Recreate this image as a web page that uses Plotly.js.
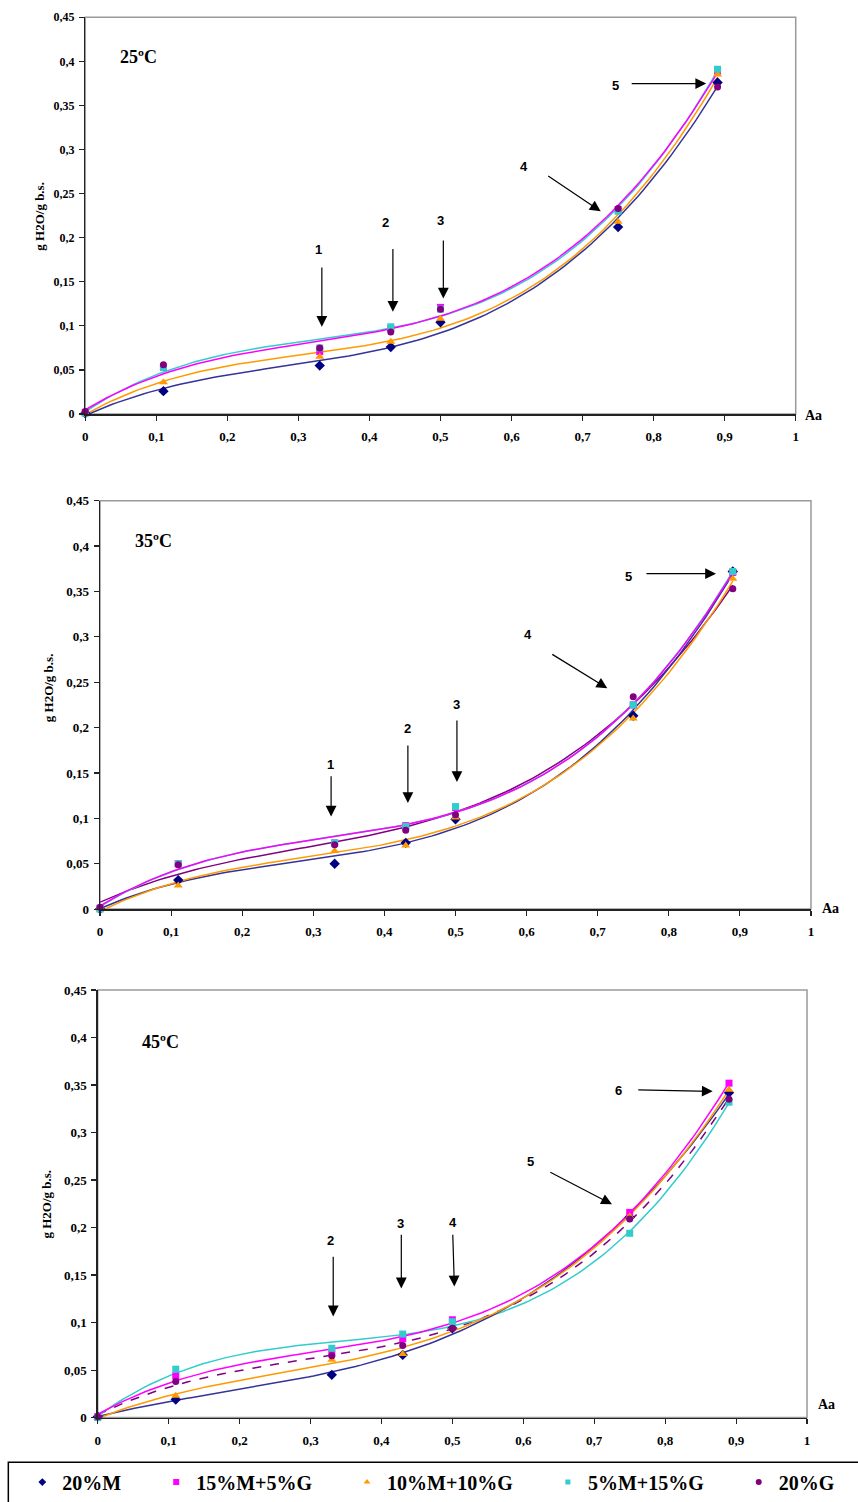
<!DOCTYPE html>
<html><head><meta charset="utf-8">
<script src="https://cdn.plot.ly/plotly-3.0.1.min.js"></script>
<style>html,body{margin:0;padding:0;background:#fff}#chart{width:858px;height:1502px}</style>
</head><body><div id="chart"></div>
<script>
// ---------- data ----------
const aw = [0, 0.11, 0.33, 0.43, 0.5, 0.75, 0.89];
const seriesNames = ['20%M', '15%M+5%G', '10%M+10%G', '5%M+15%G', '20%G'];
const panelTitles = ['25ºC', '35ºC', '45ºC'];
const xTickVals = [0, 0.1, 0.2, 0.3, 0.4, 0.5, 0.6, 0.7, 0.8, 0.9, 1];
const xTickText = ['0', '0,1', '0,2', '0,3', '0,4', '0,5', '0,6', '0,7', '0,8', '0,9', '1'];
const yTickVals = [0, 0.05, 0.1, 0.15, 0.2, 0.25, 0.3, 0.35, 0.4, 0.45];
const yTickText = ['0', '0,05', '0,1', '0,15', '0,2', '0,25', '0,3', '0,35', '0,4', '0,45'];
const yTitle = 'g H2O/g b.s.';
const xTitle = 'Aa';

// 25 ºC
const m20_25    = [0.001, 0.026, 0.055, 0.076, 0.104, 0.212, 0.376];
const m15g5_25  = [0.002, 0.053, 0.071, 0.097, 0.121, 0.232, 0.389];
const m10g10_25 = [0.001, 0.036, 0.065, 0.082, 0.108, 0.218, 0.385];
const m5g15_25  = [0.001, 0.053, 0.075, 0.099, 0.119, 0.230, 0.391];
const g20_25    = [0.003, 0.056, 0.075, 0.093, 0.119, 0.233, 0.371];
// 35 ºC
const m20_35    = [0.000, 0.032, 0.050, 0.073, 0.099, 0.213, 0.372];
const m15g5_35  = [0.001, 0.050, 0.073, 0.092, 0.112, 0.225, 0.371];
const m10g10_35 = [0.000, 0.026, 0.064, 0.070, 0.101, 0.210, 0.364];
const m5g15_35  = [0.000, 0.050, 0.073, 0.091, 0.113, 0.225, 0.372];
const g20_35    = [0.002, 0.049, 0.071, 0.087, 0.104, 0.234, 0.353];
// 45 ºC
const m20_45    = [0.001, 0.019, 0.045, 0.066, 0.094, 0.211, 0.342];
const m15g5_45  = [0.001, 0.044, 0.068, 0.083, 0.103, 0.216, 0.352];
const m10g10_45 = [0.000, 0.023, 0.061, 0.067, 0.095, 0.212, 0.345];
const m5g15_45  = [0.000, 0.051, 0.073, 0.088, 0.101, 0.194, 0.332];
const g20_45    = [0.001, 0.038, 0.065, 0.076, 0.094, 0.209, 0.335];

const panels = [
  [m20_25, m15g5_25, m10g10_25, m5g15_25, g20_25],
  [m20_35, m15g5_35, m10g10_35, m5g15_35, g20_35],
  [m20_45, m15g5_45, m10g10_45, m5g15_45, g20_45]
];

// ---------- style ----------
const markerColors = ['#000080', '#FF00FF', '#FF9900', '#33CCCC', '#800080'];
const lineColors   = ['#333399', '#FF00FF', '#FF9900', '#33CCCC', '#800080'];
const symbols = ['diamond', 'square', 'triangle-up', 'square', 'circle'];
const msizes = [8, 7, 8, 7, 7];
const legendSizes = [6, 6, 6, 5, 6];
const showFit = [[1,1,1,1,0],[1,1,1,1,1],[1,1,1,1,1]];
const fitDash = [['solid','solid','solid','solid','solid'],['solid','solid','solid','solid','solid'],['solid','solid','solid','solid','dash']];
const lineOrder = [4, 3, 0, 2, 1];
const legendPad = [6, 6, 6, 6, 0];
const SERIF = '"Liberation Serif", "Times New Roman", serif';
const SANS = '"Liberation Sans", Arial, sans-serif';
const NB = '\u00A0';

// x/y domains (paper fractions) for the three panels
const xDomains = [[0.0994, 0.9274], [0.1166, 0.9452], [0.1139, 0.9406]];
const yDomains = [[0.7232, 0.9885], [0.3923, 0.6653], [0.0524, 0.3382]];
const yTickSize = [12, 13, 13];

// polynomial (order 3) least-squares trendline
function polyFit(xs, ys, deg) {
  const n = deg + 1;
  const A = Array.from({length: n}, () => new Array(n + 1).fill(0));
  for (let k = 0; k < xs.length; k++) {
    for (let i = 0; i < n; i++) {
      for (let j = 0; j < n; j++) A[i][j] += Math.pow(xs[k], i + j);
      A[i][n] += ys[k] * Math.pow(xs[k], i);
    }
  }
  for (let i = 0; i < n; i++) {
    let p = i;
    for (let r = i + 1; r < n; r++) if (Math.abs(A[r][i]) > Math.abs(A[p][i])) p = r;
    [A[i], A[p]] = [A[p], A[i]];
    for (let r = 0; r < n; r++) {
      if (r === i) continue;
      const f = A[r][i] / A[i][i];
      for (let c = i; c <= n; c++) A[r][c] -= f * A[i][c];
    }
  }
  return A.map((row, i) => row[n] / row[i]);
}
function polyEval(c, x) { return c.reduce((s, ci, i) => s + ci * Math.pow(x, i), 0); }

const xMax = Math.max(...aw);
const grid = [];
for (let i = 0; i <= 120; i++) grid.push(xMax * i / 120);

const traces = [];
panels.forEach((series, p) => {
  const xa = p === 0 ? 'x' : 'x' + (p + 1);
  const ya = p === 0 ? 'y' : 'y' + (p + 1);
  lineOrder.forEach(s => {
    if (!showFit[p][s]) return;
    const c = polyFit(aw, series[s], 3);
    traces.push({
      x: grid, y: grid.map(x => polyEval(c, x)), xaxis: xa, yaxis: ya,
      mode: 'lines', line: {color: lineColors[s], width: 1.5, dash: fitDash[p][s]},
      showlegend: false, hoverinfo: 'skip'
    });
  });
  series.forEach((vals, s) => {
    traces.push({
      x: aw, y: vals, xaxis: xa, yaxis: ya, mode: 'markers', cliponaxis: false,
      name: seriesNames[s],
      marker: {color: markerColors[s], symbol: symbols[s], size: msizes[s]},
      showlegend: false
    });
  });
});
// legend entries (no data of their own, smaller symbols as in the reference legend)
seriesNames.forEach((nm, s) => {
  traces.push({
    x: [null], y: [null], mode: 'markers', name: nm + NB.repeat(legendPad[s]),
    marker: {color: markerColors[s], symbol: symbols[s], size: legendSizes[s]},
    showlegend: true, hoverinfo: 'skip'
  });
});

const layout = {
  width: 858, height: 1502,
  margin: {l: 0, r: 0, t: 0, b: 0},
  paper_bgcolor: '#fff', plot_bgcolor: '#fff',
  showlegend: true,
  legend: {
    orientation: 'h', x: 0.026, y: 0.0093, xanchor: 'left', yanchor: 'middle',
    font: {family: SERIF, size: 20, color: '#000', weight: 'bold'},
    bgcolor: 'rgba(0,0,0,0)', borderwidth: 0, itemsizing: 'trace'
  },
  shapes: [], annotations: []
};

for (let p = 0; p < 3; p++) {
  const sx = p === 0 ? '' : String(p + 1);
  layout['xaxis' + sx] = {
    domain: xDomains[p], range: [0, 1], anchor: 'y' + sx,
    tickvals: xTickVals, ticktext: xTickText, ticks: 'outside', ticklen: 5, tickwidth: 1.2, tickcolor: '#222',
    ticklabelstandoff: 5,
    showline: true, linecolor: '#222', linewidth: 1.5, showgrid: false, zeroline: false,
    tickfont: {family: SERIF, size: 13, color: '#000', weight: 'bold'}, fixedrange: true
  };
  layout['yaxis' + sx] = {
    domain: yDomains[p], range: [0, 0.45], anchor: 'x' + sx,
    tickvals: yTickVals, ticktext: yTickText, ticks: 'outside', ticklen: 5, tickwidth: 1.2, tickcolor: '#222',
    ticklabelstandoff: 2,
    showline: true, linecolor: '#222', linewidth: 1.5, showgrid: false, zeroline: false,
    tickfont: {family: SERIF, size: yTickSize[p], color: '#000', weight: 'bold'}, fixedrange: true
  };
  layout.shapes.push({
    type: 'rect', xref: 'x' + sx + ' domain', yref: 'y' + sx + ' domain',
    x0: 0, x1: 1, y0: 0, y1: 1, line: {color: '#9a9a9a', width: 1.5}, layer: 'below'
  });
}

// legend frame
layout.shapes.push({type: 'rect', xref: 'paper', yref: 'paper', x0: 0.0097, x1: 1.05, y0: -0.05, y1: 0.0226,
  line: {color: '#000', width: 1.5}});

// panel titles, axis titles
const titlePos = [[0.0756, 0.405], [0.0745, 0.4058], [0.0878, 0.3958]];
const yTitlePos = [[0.0466, 0.8558], [0.0559, 0.5406], [0.0544, 0.1953]];
const xTitlePos = [[0.9484, 0.7222], [0.9674, 0.3930], [0.9635, 0.0612]];
for (let p = 0; p < 3; p++) {
  const sx = p === 0 ? '' : String(p + 1);
  layout.annotations.push({xref: 'x' + sx, yref: 'y' + sx, x: titlePos[p][0], y: titlePos[p][1],
    xanchor: 'center', yanchor: 'middle',
    text: panelTitles[p], showarrow: false, font: {family: SERIF, size: 18, color: '#000', weight: 'bold'}});
  layout.annotations.push({xref: 'paper', yref: 'paper', x: yTitlePos[p][0], y: yTitlePos[p][1],
    xanchor: 'center', yanchor: 'middle',
    text: yTitle, textangle: -90, showarrow: false, font: {family: SERIF, size: 13, color: '#000', weight: 'bold'}});
  layout.annotations.push({xref: 'paper', yref: 'paper', x: xTitlePos[p][0], y: xTitlePos[p][1],
    xanchor: 'center', yanchor: 'middle',
    text: xTitle, showarrow: false, font: {family: SERIF, size: 14, color: '#000', weight: 'bold'}});
}

// numbered pointers
const labels = [
  [['1', 0.328, 0.187], ['2', 0.422, 0.2175], ['3', 0.500, 0.219], ['4', 0.617, 0.281], ['5', 0.747, 0.373]],
  [['1', 0.3235, 0.1596], ['2', 0.432, 0.1987], ['3', 0.5007, 0.2254], ['4', 0.6015, 0.3029], ['5', 0.744, 0.366]],
  [['2', 0.3275, 0.1869], ['3', 0.427, 0.2044], ['4', 0.501, 0.205], ['5', 0.6095, 0.27], ['6', 0.734, 0.344]]
];
const arrows = [
  [[0.333, 0.168, 0.333, 0.099], [0.433, 0.189, 0.433, 0.116], [0.504, 0.1985, 0.504, 0.131], [0.6495, 0.271, 0.7255, 0.230], [0.767, 0.3747, 0.874, 0.3747]],
  [[0.325, 0.148, 0.325, 0.102], [0.433, 0.182, 0.433, 0.117], [0.502, 0.2096, 0.502, 0.140], [0.634, 0.2817, 0.7135, 0.2433], [0.7665, 0.3696, 0.8664, 0.3696]],
  [[0.332, 0.171, 0.332, 0.1065], [0.428, 0.194, 0.428, 0.136], [0.5005, 0.194, 0.5028, 0.138], [0.636, 0.259, 0.725, 0.2246], [0.760, 0.345, 0.867, 0.3434]]
];
for (let p = 0; p < 3; p++) {
  const sx = p === 0 ? '' : String(p + 1);
  labels[p].forEach(l => layout.annotations.push({xref: 'x' + sx, yref: 'y' + sx, x: l[1], y: l[2], text: l[0],
    xanchor: 'center', yanchor: 'middle',
    showarrow: false, font: {family: SANS, size: 13, color: '#000', weight: 'bold'}}));
  arrows[p].forEach(a => layout.annotations.push({xref: 'x' + sx, yref: 'y' + sx, axref: 'x' + sx, ayref: 'y' + sx,
    x: a[2], y: a[3], ax: a[0], ay: a[1], text: '', showarrow: true, arrowhead: 2, arrowsize: 1.8, arrowwidth: 1.2,
    arrowcolor: '#000', standoff: 0, startstandoff: 0}));
}

Plotly.newPlot('chart', traces, layout, {staticPlot: true, displayModeBar: false});
</script>
</body></html>
